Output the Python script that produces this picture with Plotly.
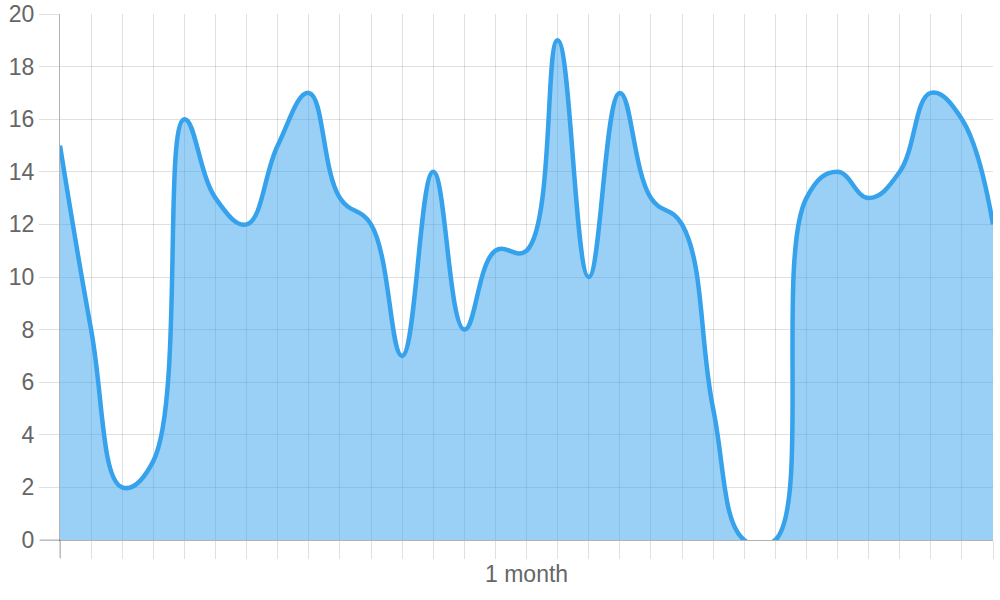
import plotly.graph_objects as go

days = list(range(31))
values = [15, 8, 2, 3, 16, 13, 12, 15, 17, 13, 12, 7, 14, 8, 11, 11, 19, 10, 17, 13,
          12, 5, 0, 0, 13, 14, 13, 14, 17, 16, 12]
x_label = "1 month"
y_ticks = list(range(0, 21, 2))

LINE = "#36A2EB"
FILL = "rgba(54,162,235,0.5)"
GRID = "rgba(0,0,0,0.12)"
AXIS = "rgba(0,0,0,0.3)"
FONT = dict(family="Liberation Sans, Arial, sans-serif", size=23, color="#666666")

fig = go.Figure()
fig.add_trace(go.Scatter(
    x=days, y=values, mode="lines",
    line=dict(color=LINE, width=4.5, shape="spline", smoothing=1.2),
    fill="tozeroy", fillcolor=FILL,
    hoverinfo="skip", showlegend=False,
))

fig.update_layout(
    width=1000, height=600,
    margin=dict(l=60, r=7, t=14, b=60, autoexpand=False),
    paper_bgcolor="white", plot_bgcolor="white",
    font=FONT,
    xaxis=dict(
        range=[0, 30], dtick=1, tick0=0, automargin=False,
        showgrid=True, gridcolor=GRID, gridwidth=1,
        ticks="outside", ticklen=18, tickcolor=GRID, tickwidth=1,
        showticklabels=False, zeroline=False,
        showline=True, linecolor=AXIS, linewidth=1,
    ),
    yaxis=dict(
        range=[0, 20], tickvals=y_ticks, automargin=False,
        showgrid=True, gridcolor=GRID, gridwidth=1,
        ticks="outside", ticklen=20, tickcolor=GRID, tickwidth=1,
        zeroline=False, showline=True, linecolor=AXIS, linewidth=1,
        tickfont=FONT,
    ),
    annotations=[dict(
        text=x_label, x=0.5, xref="paper", y=-0.0646, yref="paper",
        xanchor="center", yanchor="middle", showarrow=False, font=FONT,
    )],
    shapes=[
        dict(type="line", xref="paper", yref="paper", x0=0, x1=0, y0=0, y1=-18 / 526,
             line=dict(color=AXIS, width=1), layer="above"),
        dict(type="line", xref="paper", yref="paper", x0=-20 / 933, x1=0, y0=0, y1=0,
             line=dict(color=AXIS, width=1), layer="above"),
    ],
)

fig.write_html(
    "out.html",
    config={"displayModeBar": False},
    post_script="document.body.style.margin='0';document.body.style.overflow='hidden';",
)
